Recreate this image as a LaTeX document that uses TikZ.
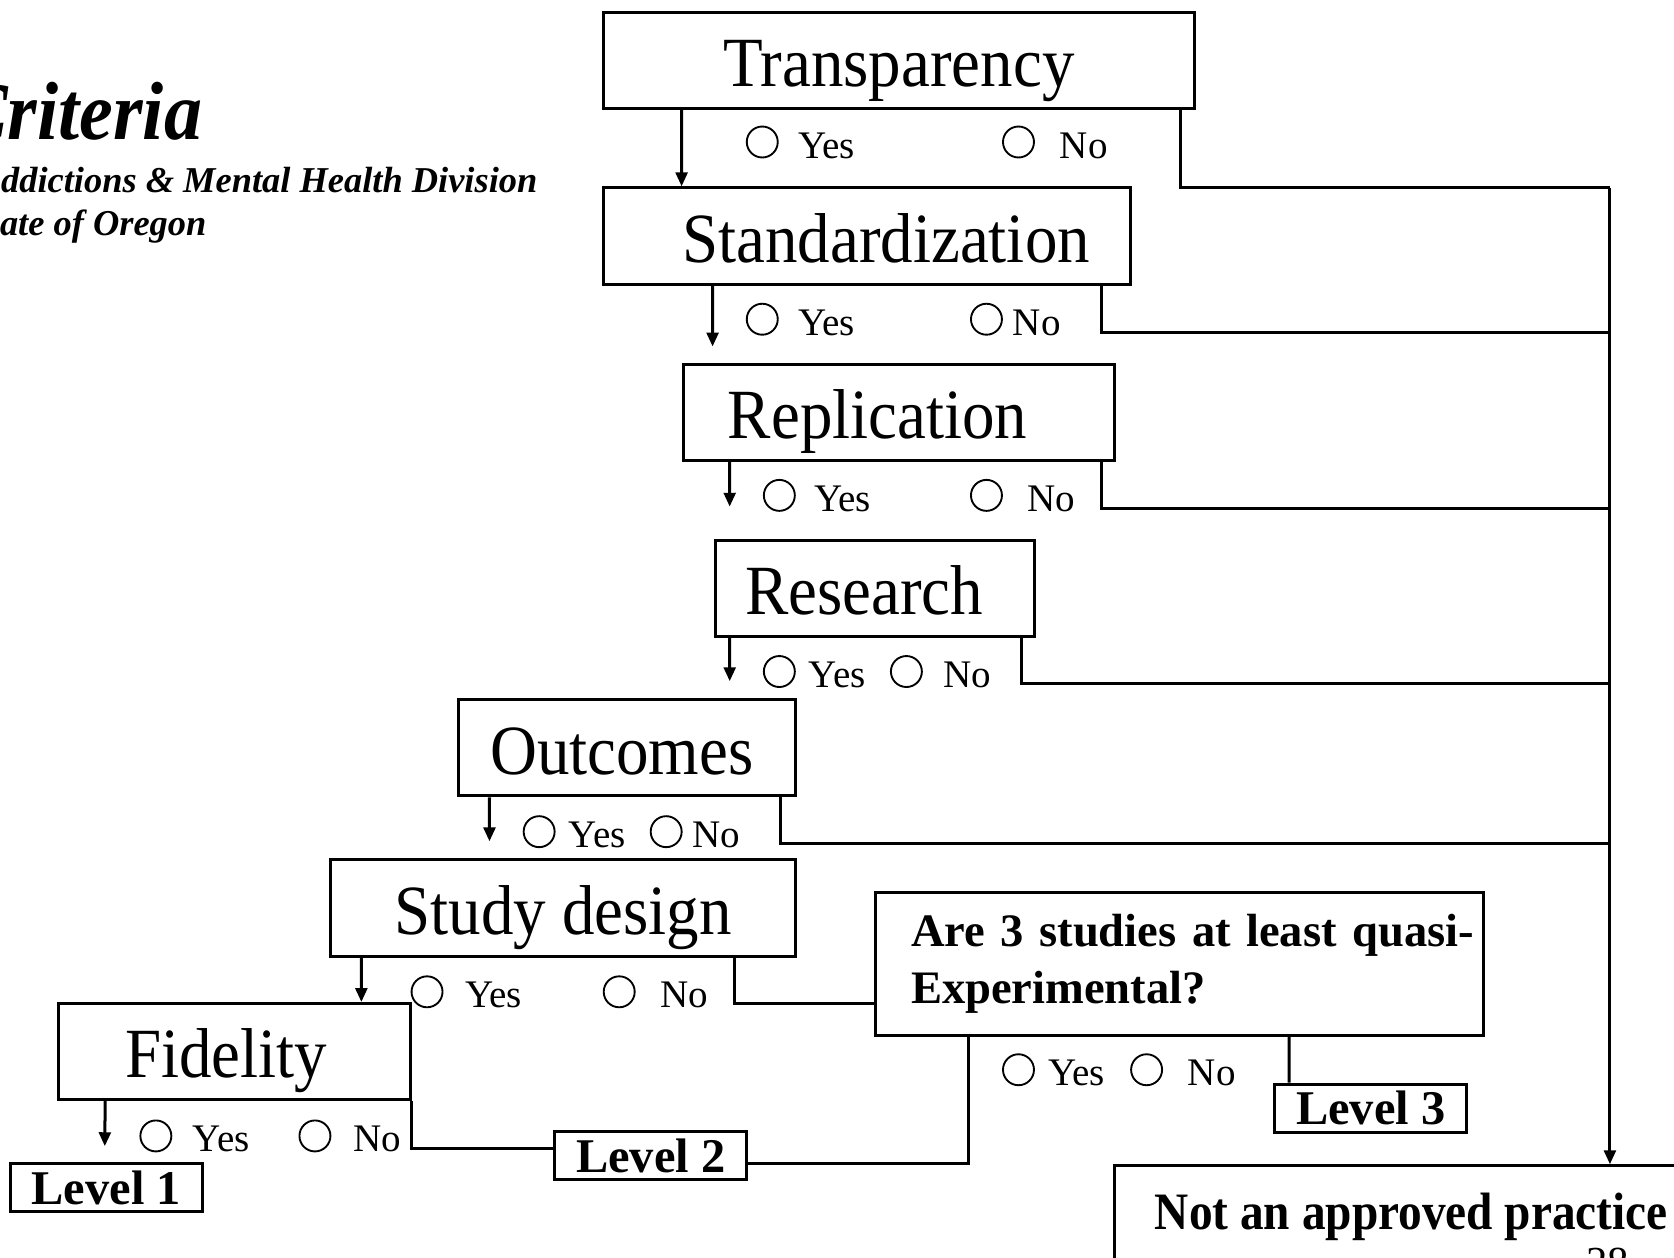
\documentclass[tikz,border=0pt]{standalone}
\usepackage{fontspec}
\setmainfont{Liberation Serif}
\newfontfamily\narrowfont[FakeStretch=0.92]{Liberation Serif}
\newfontfamily\midfont[FakeStretch=0.9]{Liberation Serif}
\usetikzlibrary{arrows.meta,calc}

\tikzset{
  crit/.style={draw, line width=0.8pt, inner sep=0pt, minimum height=0.9cm,
    font=\narrowfont\fontsize{18.8}{22}\selectfont, text height=14pt, text depth=0pt},
  lvl/.style={draw, line width=0.8pt, inner sep=0pt, minimum width=1.8cm, minimum height=0.45cm,
    font=\bfseries\fontsize{12.9}{15}\selectfont, text height=8.7pt, text depth=0pt},
  opt/.style={inner sep=0pt, anchor=base west, font=\fontsize{10.4}{12}\selectfont},
  radio/.style={draw, circle, line width=0.5pt, inner sep=0pt, minimum size=0.29cm},
  head/.style={inner sep=0pt, anchor=base east},
  wire/.style={line width=0.8pt},
  arr/.style={wire, -{Triangle[length=0.13cm,width=0.11cm]}},
}

\begin{document}
\begin{tikzpicture}[x=0.01cm, y=-0.01cm]
\useasboundingbox (0,0) rectangle (1568,1178);
\clip (0,0) rectangle (1568,1178);

% heading
\node[head, font=\narrowfont\bfseries\itshape\fontsize{22}{26}\selectfont] (title) at (190,131) {Criteria};
\node[head, font=\bfseries\itshape\fontsize{9.7}{12}\selectfont] (division) at (504,180) {ddictions \& Mental Health Division};
\node[head, font=\bfseries\itshape\fontsize{9.7}{12}\selectfont] (state) at (194,221) {ate of Oregon};

% criteria boxes
\node[crit, minimum width=5.54cm] (transp) at (842,56.5) {Transparency};
\node[crit, minimum width=4.94cm] (stand) at (812,221) {\hspace*{0.36cm}Standardization};
\node[crit, minimum width=4.04cm] (repl) at (842,386) {Replication\hspace*{0.4cm}};
\node[crit, minimum width=2.99cm] (research) at (819.5,551) {Research\hspace*{0.2cm}};
\node[crit, minimum width=3.15cm] (outcomes) at (587.5,700.5) {Outcomes\hspace*{0.1cm}};
\node[crit, minimum width=4.35cm] (design) at (527.5,850.5) {Study design};
\node[crit, minimum width=3.29cm] (fidelity) at (219.5,985) {Fidelity\hspace*{0.15cm}};
\node[draw, line width=0.8pt, inner xsep=0.335cm, inner ysep=0pt, minimum height=1.34cm,
  text width=5.02cm, align=left, font=\bfseries\fontsize{12.4}{15.1}\selectfont]
  (quasi) at (1104.5,903) {\mbox{Are 3 studies at least quasi-}\\Experimental?};

% results
\node[lvl] (lvlone) at (99.5,1112.5) {Level 1};
\node[lvl] (lvltwo) at (609.5,1082.5) {Level 2};
\node[lvl] (lvlthree) at (1284,1038) {Level 3};
\node[draw, line width=0.8pt, inner sep=0pt, minimum width=5.56cm, minimum height=1.2cm,
  text height=10pt, text depth=10pt, font=\midfont\bfseries\fontsize{14}{17}\selectfont]
  (notappr) at (1322,1152) {Not an approved practice};
\node[inner sep=0pt, anchor=base west, font=\fontsize{11.4}{13}\selectfont] (page) at (1485,1196) {28};

% yes / no choices
\foreach \nm/\cy/\ty/\cn/\tn/\by in {transp/714/747/954/992/148, stand/714/747/924/948/314,
    repl/730/762/924/962/479, research/730/757/849/883/644, outcomes/505/532/624/648/794,
    design/400/435/580/618/944, quasi/954/981/1074/1112/1017, fidelity/146/180/295/330/1079}{
  \node[radio] (\nm-ry) at (\cy,\by-15) {};
  \node[opt] (\nm-yes) at (\ty,\by) {Yes};
  \node[radio] (\nm-rn) at (\cn,\by-15) {};
  \node[opt] (\nm-no) at (\tn,\by) {No};
}

% edges
\draw[arr] ($(transp.south west)+(75,0)$) -- ($(stand.north west)+(75,0)$);
\draw[arr, shorten >=0.15cm] ($(stand.south west)+(104,0)$) -- ($(repl.north west)+(29,0)$);
\draw[arr, shorten >=0.3cm] ($(repl.south west)+(45,0)$) -- ($(research.north west)+(15,0)$);
\draw[arr, shorten >=0.16cm] ($(research.south west)+(15,0)$) -- ($(outcomes.north west)+(255,0)$);
\draw[arr, shorten >=0.16cm] ($(outcomes.south west)+(30,0)$) -- ($(design.north west)+(150,0)$);
\draw[arr] ($(design.south west)+(30,0)$) -- ($(fidelity.north west)+(285,0)$);
\draw[arr, shorten >=0.15cm] ($(fidelity.south west)+(45,0)$) -- ($(lvlone.north west)+(90,0)$);

% no branches to the right
\foreach \nm/\dx/\jy in {transp/-15/176, stand/-29/311, repl/-14/476, research/-14/640, outcomes/-15/790}{
  \coordinate (j-\nm) at (1508,\jy);
  \draw[wire] ($(\nm.south east)+(\dx,0)$) |- (j-\nm);
}
\draw[arr] (j-transp) -- (notappr.north -| j-transp);

\draw[wire] ($(design.south east)+(-59,0)$) |- ($(quasi.west)+(0,37)$);
\draw[wire] ($(quasi.south west)+(89,0)$) |- ($(lvltwo.east)+(0,7)$);
\draw[wire] ($(quasi.south west)+(389,0)$) -- ($(lvlthree.north west)+(15,0)$);
\draw[wire] (fidelity.south east) |- ($(lvltwo.west)+(0,-7)$);
\end{tikzpicture}
\end{document}
